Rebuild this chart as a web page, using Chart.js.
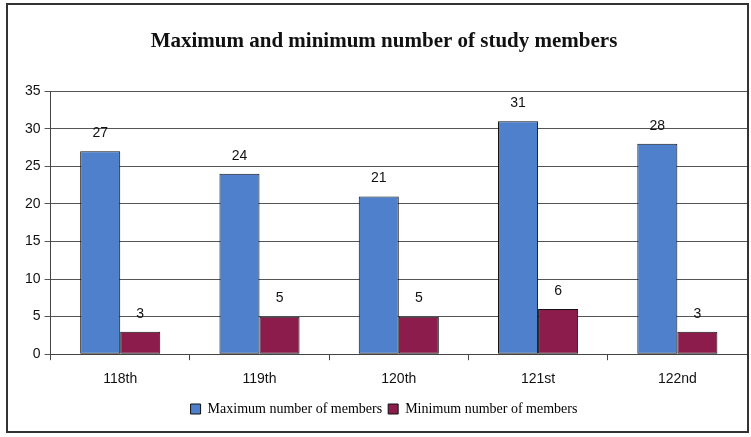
<!DOCTYPE html>
<html>
<head>
<meta charset="utf-8">
<script src="https://cdn.jsdelivr.net/npm/chart.js@4/dist/chart.umd.min.js"></script>
<style>
  html, body { margin: 0; padding: 0; background: #fff; }
  #wrap { position: relative; width: 751px; height: 437px; }
  #frame { position: absolute; left: 6px; top: 3px; width: 739px; height: 426px;
           border: 2px solid #333; pointer-events: none; }
</style>
</head>
<body>
<div id="wrap">
  <canvas id="chart" width="751" height="437"></canvas>
  <div id="frame"></div>
</div>
<script>
// Sessions and member counts
const sessions = ['118th', '119th', '120th', '121st', '122nd'];
const maxMembers = [27, 24, 21, 31, 28];
const minMembers = [3, 5, 5, 6, 3];
const yTicks = [0, 5, 10, 15, 20, 25, 30, 35];

const blue = '#4f80cb';
const maroon = '#8c1c4c';

// Zahlen über die Balken schreiben
const valueLabels = {
    id: 'valueLabels',
    afterDatasetsDraw(chart) {
        const ctx = chart.ctx;
        ctx.save();
        ctx.font = '14px "Liberation Sans", Arial, sans-serif';
        ctx.fillStyle = '#111';
        ctx.textAlign = 'center';
        ctx.textBaseline = 'middle';
        chart.data.datasets.forEach((ds, i) => {
            chart.getDatasetMeta(i).data.forEach((bar, j) => {
                ctx.fillText(String(ds.data[j]), bar.x, bar.y - 18);
            });
        });
        ctx.restore();
    }
};

new Chart(document.getElementById('chart').getContext('2d'), {
    type: 'bar',
    data: {
        labels: sessions,
        datasets: [
            { label: 'Maximum number of members', data: maxMembers,
              backgroundColor: blue, borderColor: '#111', borderWidth: 1, borderSkipped: false },
            { label: 'Minimum number of members', data: minMembers,
              backgroundColor: maroon, borderColor: '#111', borderWidth: 1, borderSkipped: false }
        ]
    },
    options: {
        responsive: false,
        animation: false,
        layout: { padding: { left: 21, right: 4, top: 21, bottom: 11 } },
        datasets: { bar: { categoryPercentage: 0.575, barPercentage: 1.0 } },
        plugins: {
            title: {
                display: true,
                text: 'Maximum and minimum number of study members',
                color: '#111',
                font: { family: '"Liberation Serif", "Times New Roman", serif', size: 21, weight: 'bold' },
                padding: { top: 8, bottom: 37 }
            },
            legend: {
                position: 'bottom',
                labels: {
                    color: '#111',
                    boxWidth: 10, boxHeight: 10,
                    padding: 6,
                    font: { family: '"Liberation Serif", "Times New Roman", serif', size: 14 },
                    generateLabels(chart) {
                        return chart.data.datasets.map((ds, i) => ({
                            text: ds.label, fillStyle: ds.backgroundColor,
                            strokeStyle: '#111', lineWidth: 1, datasetIndex: i
                        }));
                    }
                }
            },
            tooltip: { enabled: false }
        },
        scales: {
            x: {
                afterFit(axis) { axis.height -= 3; },
                grid: { drawOnChartArea: false, color: '#444', tickLength: 6, offset: true },
                border: { color: '#444' },
                ticks: { color: '#111', padding: 11,
                         font: { family: '"Liberation Sans", Arial, sans-serif', size: 14 } }
            },
            y: {
                min: 0, max: 35,
                afterBuildTicks(axis) { axis.ticks = yTicks.map(v => ({ value: v })); },
                grid: { color: '#555', tickLength: 6 },
                border: { color: '#444' },
                ticks: { color: '#111', padding: 4,
                         font: { family: '"Liberation Sans", Arial, sans-serif', size: 14 } }
            }
        }
    },
    plugins: [valueLabels]
});
</script>
</body>
</html>
